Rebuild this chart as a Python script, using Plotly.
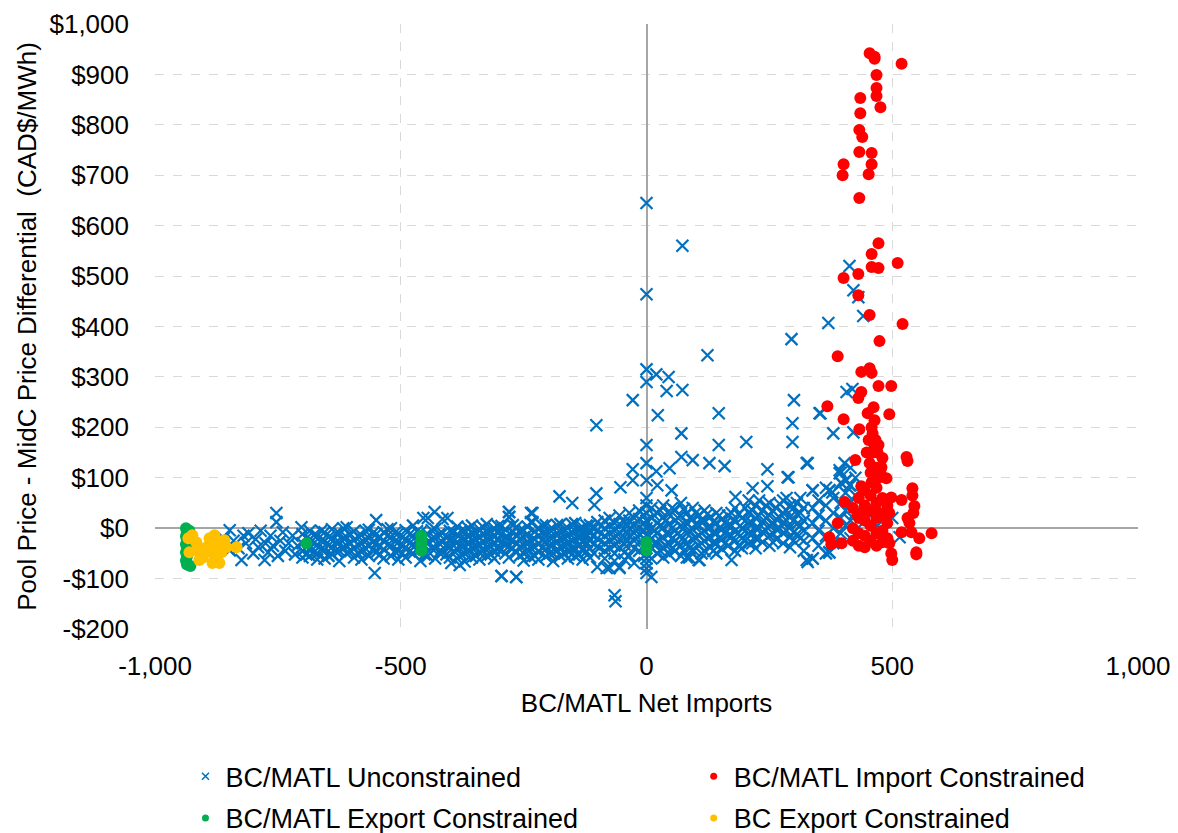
import plotly.graph_objects as go

# ---------------- data ----------------
# BC/MATL Unconstrained: dense band, given as columns (x value -> list of y values)
blue_cols_x = [
    -870, -860, -848, -840, -830, -824, -820, -815, -810, -800, -795, -790, -785, -777,
    -775, -770, -765, -760, -753, -750, -745, -740, -735, -728, -720, -715, -710, -702,
    -700, -685, -670, -655, -640, -625, -610, -595, -580, -565, -550, -535, -520, -505,
    -490, -475, -460, -445, -430, -415, -400,
    -385, -370, -355, -340, -325, -310, -295, -280, -265, -250, -235, -220, -205, -190,
    -175, -160, -145, -130, -115, -100,
    -85, -75, -65, -55, -45, -35, -25, -15, -5, 0,
    10, 22, 34, 46, 58, 70, 82, 94, 106, 118, 130, 142, 154,
    166, 180, 194, 208, 222, 236, 250, 264, 278, 292, 306, 320,
    338, 350, 365, 372, 380, 395, 405, 415, 425, 440, 455, 470, 500, 515,
]
blue_cols_y = [
    [-35], [-20], [-4, -44], [-25], [-40], [-63], [-15], [-30], [-10], [-50], [-22], [-38], [-5], [-63],
    [-30], [-48], [-15], [-35], [30, 12], [-55], [-25], [-8], [-45], [-30], [-15], [-52], [-35], [2],
    [-12, -30, -45, -58], [-5, -22, -40, -55], [-15, -33, -50, -62], [-8, -25, -42, -60],
    [-2, -20, -38, -52], [-10, -28, -45, -65], [2, -18, -35, -50], [-6, -24, -40, -58],
    [-14, -30, -47, -62], [-3, -20, -36, -55], [16, -12, -30, -48], [-8, -25, -42, -60],
    [0, -18, -35, -55], [-10, -28, -45, -62], [-4, -22, -38, -58], [5, -15, -32, -50],
    [-8, -25, -42, -65], [20, -12, -30, -55], [-2, -20, -40, -60], [18, -10, -28, -48],
    [-5, -22, -38, -58],
    [3, -12, -28, -42, -60], [-5, -20, -35, -50, -66], [5, -10, -25, -40, -58],
    [-2, -18, -32, -48, -62], [8, -8, -22, -38, -55], [0, -15, -30, -45, -60],
    [4, -12, -28, -42, -95], [32, 22, -20, -36, -58], [2, -14, -30, -48, -97],
    [-4, -18, -34, -50, -64], [30, 12, -25, -40, -58], [0, -15, -30, -46, -62],
    [6, -10, -26, -42, -56], [-2, -18, -33, -50, -65], [8, -8, -22, -38, -55],
    [0, -15, -30, -45, -60], [10, -6, -22, -40, -56], [2, -14, -28, -44, -62],
    [6, -10, -25, -40, -58], [12, -4, -20, -36, -77],
    [15, 0, -15, -30, -45, -60], [20, 5, -10, -25, -40, -79], [10, -5, -20, -35, -50, -65],
    [25, 8, -8, -22, -38, -77], [12, -2, -18, -32, -48, -62], [30, 15, 0, -15, -30, -55],
    [20, 5, -10, -25, -40, -69], [35, 18, 2, -12, -28, -45], [25, 10, -5, -20, -35, -55],
    [60, 45, 30, 15, 0, -15, -50, -60, -70, -80, -89],
    [40, 20, 0, -20, -40, -60], [30, 10, -10, -30, -50], [45, 22, 2, -18, -38, -58],
    [28, 8, -12, -32, -52], [35, 15, -5, -25, -45], [50, 25, 5, -15, -35, -55],
    [30, 10, -10, -30, -58], [40, 18, -2, -22, -42], [25, 5, -15, -35, -63],
    [35, 15, -5, -25, -45], [22, 2, -18, -38], [30, 10, -10, -30, -50], [18, -2, -22, -42],
    [25, 5, -15, -35], [40, 15, -5, -25, -45], [20, 0, -20, -40], [55, 30, 10, -10, -30],
    [45, 20, 0, -20, -40], [35, 12, -8, -28], [50, 25, 5, -15, -35], [40, 18, -2, -22],
    [55, 30, 10, -10, -30], [45, 22, 2, -18, -38], [50, 28, 8, -12], [40, 15, -5, -25, -45],
    [75, 40, 10, -20, -60], [55, 25, -5, -35], [80, 45, 15, -15, -50], [75, -48],
    [60, 30, 0, -30], [110, 90, 50, 20, -10], [95, 70, 35, 5], [120, 85, 50, 15, -20],
    [100, 65, 30], [80, 45, 10], [60, 25], [40, 5], [20], [-18],
]
# BC/MATL Unconstrained: in-between columns filling the dense core of the band
blue_mid_x = [
    -692, -677, -662, -647, -632, -617, -602, -587, -572, -557, -542, -527, -512, -497,
    -482, -467, -452, -437, -422, -407, -392,
    -377, -362, -347, -332, -317, -302, -287, -272, -257, -242, -227, -212, -197, -182,
    -167, -152, -137, -122, -107,
    16, 28, 40, 52, 64, 76, 88, 100, 112, 124, 136, 148, 160,
    173, 187, 201, 215, 229, 243, 257, 271, 285, 299, 313,
]
blue_mid_y = [
    [-20, -38, -52], [-14, -30, -48], [-5, -25, -42], [-18, -35, -55], [-10, -28, -45],
    [0, -20, -38], [-12, -30, -45], [-16, -33, -50], [-5, -22, -40], [-10, -28, -42],
    [-18, -36, -52], [-2, -15, -34], [-9, -26, -46], [-18, -35, -50], [-12, -30, -46],
    [-6, -24, -42], [-16, -34, -52], [-4, -22, -40], [-12, -30, -48], [-18, -34, -52],
    [-8, -25, -45],
    [-5, -20, -35, -52], [0, -15, -30, -45], [-8, -22, -38, -55], [2, -12, -28, -45],
    [-6, -20, -36, -52], [4, -10, -25, -42], [-2, -18, -33, -50], [6, -8, -24, -40],
    [-4, -20, -36, -54], [3, -12, -28, -44], [-6, -22, -38, -55], [5, -10, -25, -40],
    [-3, -18, -34, -50], [6, -10, -26, -44], [-2, -18, -34, -50], [8, -8, -25, -42],
    [-2, -18, -35, -52], [5, -12, -28, -46], [0, -15, -32, -50],
    [25, -5, -30], [35, 5, -25, -45], [15, -10, -35], [40, 0, -20, -40], [20, -10, -30],
    [38, 0, -25, -45], [20, -5, -40], [30, 8, -20], [15, -10, -30, -50], [28, 0, -20],
    [12, -8, -28, -45], [25, 0, -20], [10, -10, -30],
    [30, 5, -15], [28, -10, -35], [40, 15, -5, -25], [35, 10, -10, -30], [55, 25, 0, -20],
    [45, 20, -5], [35, 10, -10, -28], [48, 20, 0], [60, 35, 15, -5], [40, 15, -8, -25],
    [60, 30, 5, -20],
]
# BC/MATL Unconstrained: scattered outliers
blue_out_x = [0, 73, 0, 124, 0, 0, 20, 45, 41, 73, -28, -102, 23, 147, 300, 297, 297, 352,
              71, 0, 147, 203, 71, 94, 128, 159, -28, 0, 20, 47, 246, 287, 326, -53, -28,
              0, 22, 51, 246, 216, 181, 338, 378, 407, 393, 10, -65, -63, 87, 108, 173,
              328, -81, -55, -177, -151, -102, -106, -279, -279, -232, -232, -454, -431,
              -405, -295, -265, -380, -397, -553, 413, 421, 431, 441, 370, 295, 407, 419,
              354, 380, 421, 328, 403, 289, 372, 397, 413, 393, 326, 338, 372]
blue_out_y = [645, 560, 464, 343, 315, 290, 305, 300, 272, 274, 254, 204, 224, 228, 254, 208, 171, 228,
              188, 165, 165, 171, 141, 135, 129, 123, 117, 129, 113, 119, 117, 101, 129, 81, 95,
              95, 85, 75, 83, 79, 62, 75, 71, 95, 115, -97, -133, -145, -58, -63, -63,
              -67, -79, -79, 63, 50, 69, 46, 32, 22, 30, 12, 20, 32,
              20, -95, -97, -73, -69, -89, 520, 472, 458, 421, 407, 375, 270, 276,
              228, 188, 190, 129, 129, 101, 75, 89, 85, 109, -63, -60, -48]

# BC/MATL Import Constrained
red_x = [454, 464, 464, 519, 468, 468, 468, 476, 435, 435, 433, 439, 433, 458, 458, 401, 399, 452,
         433, 472, 458, 511, 458, 472, 431, 401, 431, 454, 521, 474, 389, 437, 454, 458, 472, 498,
         437, 431, 368, 494, 401, 450, 464, 433, 458, 460, 464, 458, 425, 480, 478, 529, 531, 454,
         474, 488, 437, 458, 541, 541, 403, 498, 519, 545, 543, 429, 444, 460, 474, 494, 531, 535,
         389, 519, 539, 580, 555, 372, 397, 376, 494, 498, 549, 549, 500,
         462, 466, 470, 462, 472, 476, 452, 448]
red_y = [942, 935, 931, 921, 899, 873, 857, 835, 853, 823, 790, 776, 746, 744, 722, 722, 700, 702,
         655, 565, 544, 526, 518, 516, 504, 496, 462, 423, 405, 371, 341, 310, 317, 308, 282, 282,
         270, 258, 242, 226, 216, 228, 214, 196, 200, 188, 161, 149, 135, 139, 121, 141, 133, 129,
         101, 99, 83, 91, 79, 65, 52, 61, 56, 44, 30, 26, 32, 36, 30, 30, 20, 10,
         10, -8, -8, -10, -20, -18, -30, -32, -30, -50, -48, -52, -63,
         240, 175, 150, 110, 165, 110, 175, 150]
# dense core of the import-constrained cluster (x value -> list of y values)
red_cols_x = [420, 432, 444, 456, 468, 480, 490]
red_cols_y = [[40, 0, -25], [60, 20, -10, -35], [75, 45, 15, -15, -38],
              [110, 65, 35, 5, -25], [120, 80, 50, 20, -10, -35], [60, 25, -5, -28], [45, 10, -20]]

# BC/MATL Export Constrained
green_x = [-937, -935, -937, -935, -937, -935, -937, -935, -937, -935, -930, -928,
           -692, -458, -458, -458, -458, 0, 0, 0]
green_y = [0, -8, -16, -24, -32, -40, -48, -56, -64, -72, -5, -75,
           -30, -15, -25, -35, -45, -28, -36, -44]

# BC Export Constrained
yellow_x = [-932, -916, -930, -914, -910, -895, -889, -879, -875, -875, -865, -859, -883,
            -834, -924, -903, -885, -869, -855]
yellow_y = [-20, -28, -48, -44, -63, -38, -20, -14, -30, -60, -48, -24, -69,
            -38, -14, -58, -48, -69, -38]

x_tickvals = [-1000, -500, 0, 500, 1000]
x_ticktext = ["-1,000", "-500", "0", "500", "1,000"]
y_tickvals = [-200, -100, 0, 100, 200, 300, 400, 500, 600, 700, 800, 900, 1000]
y_ticktext = ["-$200", "-$100", "$0", "$100", "$200", "$300", "$400", "$500", "$600",
              "$700", "$800", "$900", "$1,000"]

series_names = ["BC/MATL Unconstrained", "BC/MATL Import Constrained",
                "BC/MATL Export Constrained", "BC Export Constrained"]

# ---------------- build ----------------
def expand(cx, cy):
    xs, ys = [], []
    for x, col in zip(cx, cy):
        for y in col:
            xs.append(x)
            ys.append(y)
    return xs, ys

bx, by = expand(blue_cols_x, blue_cols_y)
mx, my = expand(blue_mid_x, blue_mid_y)
bx = bx + mx + blue_out_x
by = by + my + blue_out_y
rx, ry = expand(red_cols_x, red_cols_y)
rx = red_x + rx
ry = red_y + ry

BLUE = "#0070C0"
RED = "#FF0000"
GREEN = "#00B050"
YELLOW = "#FFC000"
FONT = "Liberation Sans, Arial, sans-serif"

fig = go.Figure()
fig.add_trace(go.Scatter(x=bx, y=by, mode="markers", showlegend=False,
                         marker=dict(symbol="x-thin", size=12, color=BLUE,
                                     line=dict(color=BLUE, width=2.2))))
fig.add_trace(go.Scatter(x=rx, y=ry, mode="markers", showlegend=False,
                         marker=dict(symbol="circle", size=12, color=RED, line=dict(width=0))))
fig.add_trace(go.Scatter(x=green_x, y=green_y, mode="markers", showlegend=False,
                         marker=dict(symbol="circle", size=12, color=GREEN, line=dict(width=0))))
fig.add_trace(go.Scatter(x=yellow_x, y=yellow_y, mode="markers", showlegend=False,
                         marker=dict(symbol="circle", size=12, color=YELLOW, line=dict(width=0))))

# legend-only entries with small markers, each in its own legend box
legend_styles = [
    dict(symbol="x-thin", size=7, color=BLUE, line=dict(color=BLUE, width=1.5)),
    dict(symbol="circle", size=7, color=RED, line=dict(width=0)),
    dict(symbol="circle", size=7, color=GREEN, line=dict(width=0)),
    dict(symbol="circle", size=7, color=YELLOW, line=dict(width=0)),
]
legend_ids = ["legend", "legend2", "legend3", "legend4"]
for name, mk, lid in zip(series_names, legend_styles, legend_ids):
    fig.add_trace(go.Scatter(x=[None], y=[None], mode="markers", name=name, marker=mk,
                             legend=lid))

def legend_box(x, y):
    return dict(x=x, xanchor="left", y=y, yanchor="middle", orientation="v",
                font=dict(family=FONT, size=27, color="#000000"),
                itemsizing="trace", bgcolor="rgba(0,0,0,0)")

col1, col2 = 0.031, 0.548
row1, row2 = -0.244, -0.313

# the page body adds an 8px offset, so the figure is sized 8px smaller each way
fig.update_layout(
    width=1170, height=825,
    paper_bgcolor="white", plot_bgcolor="white",
    margin=dict(l=147, r=40, t=16, b=204, autoexpand=False),
    font=dict(family=FONT, size=26, color="#000000"),
    legend=legend_box(col1, row1),
    legend2=legend_box(col2, row1),
    legend3=legend_box(col1, row2),
    legend4=legend_box(col2, row2),
    xaxis=dict(range=[-1000, 1000], tickvals=x_tickvals, ticktext=x_ticktext,
               showgrid=True, gridcolor="#d9d9d9", griddash="dash", gridwidth=1,
               zeroline=True, zerolinecolor="#a6a6a6", zerolinewidth=2,
               showline=False, ticks="", ticklabelstandoff=19, automargin=False,
               title=dict(text="BC/MATL Net Imports", standoff=13,
                          font=dict(family=FONT, size=26))),
    yaxis=dict(range=[-200, 1000], tickvals=y_tickvals, ticktext=y_ticktext,
               showgrid=True, gridcolor="#d9d9d9", griddash="dash", gridwidth=1,
               zeroline=True, zerolinecolor="#a6a6a6", zerolinewidth=2,
               showline=False, ticks="", ticklabelstandoff=25, automargin=False,
               title=dict(text="Pool Price - MidC Price Differential\u00a0 (CAD$/MWh)",
                          standoff=5, font=dict(family=FONT, size=26))),
)

fig.write_html("out.html")
